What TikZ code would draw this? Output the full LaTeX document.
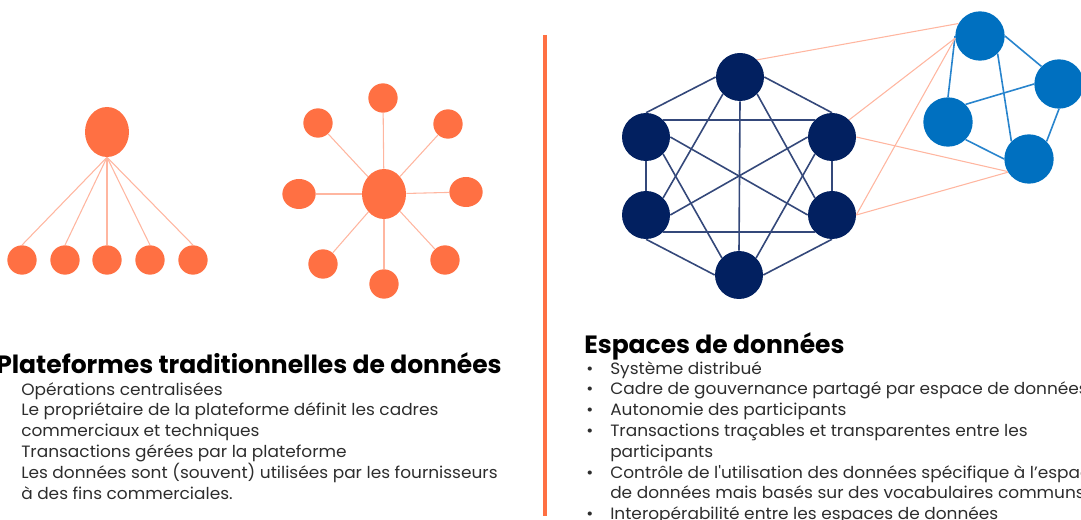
\documentclass[tikz,border=0pt]{standalone}
\usepackage{fontspec}
\setmainfont{Poppins}
\newfontfamily\bodyfont[FakeStretch=1.035]{Poppins}
\usetikzlibrary{shapes.geometric}

\definecolor{dotorange}{RGB}{255,112,67}
\definecolor{linkorange}{RGB}{255,182,160}
\definecolor{navy}{RGB}{2,32,96}
\definecolor{navyline}{RGB}{52,72,122}
\definecolor{spaceblue}{RGB}{0,112,192}
\definecolor{blueline}{RGB}{40,132,205}
\definecolor{bodygray}{RGB}{45,45,45}

\tikzset{
  hub/.style={ellipse, fill=dotorange, minimum width=33pt, minimum height=37.5pt, inner sep=0pt},
  leaf/.style={circle, fill=dotorange, minimum size=22pt, inner sep=0pt},
  peer/.style={circle, fill=navy, minimum size=36pt, inner sep=0pt},
  member/.style={circle, fill=spaceblue, minimum size=37pt, inner sep=0pt},
  thinlink/.style={draw=linkorange, line width=0.8pt},
  meshlink/.style={draw=navyline, line width=1.2pt},
  clusterlink/.style={draw=blueline, line width=1.2pt},
  divider/.style={draw=dotorange, line width=2.4pt},
  heading/.style={font=\bfseries\fontsize{18.75}{22}\selectfont, anchor=base west, inner sep=0pt},
  bodytext/.style={font=\bodyfont\fontsize{12.3}{15}\selectfont, text=bodygray, anchor=base west, inner sep=0pt},
}

\begin{document}
\begin{tikzpicture}[x=0.75pt,y=0.75pt,yscale=-1,xscale=1]
\useasboundingbox (0,0) rectangle (1081,520);
\clip (0,0) rectangle (1081,520);

% centralised tree
\node[hub] (root) at (107,132) {};
\foreach \x [count=\i] in {22,65,107,150,193}
  \node[leaf] (kid\i) at (\x,260) {};
\foreach \i in {1,...,5}
  \draw[thinlink] (root.south) -- (kid\i.north);

% star platform
\node[hub] (star) at (384,194) {};
\node[leaf] (sat1) at (383,98) {};
\node[leaf] (sat2) at (448,124) {};
\node[leaf, ellipse, minimum width=25pt, minimum height=22.5pt] (sat3) at (466,192) {};
\node[leaf] (sat4) at (445,260) {};
\node[leaf] (sat5) at (384,284) {};
\node[leaf] (sat6) at (323,264) {};
\node[leaf, ellipse, minimum width=25pt, minimum height=22.5pt] (sat7) at (299,194) {};
\node[leaf] (sat8) at (318,123) {};
\foreach \i in {1,...,8}
  \draw[thinlink] (star) -- (sat\i);

% divider
\draw[divider] (545,35) -- (545,516);

% data space mesh
\node[peer] (ptop) at (740,77) {};
\node[peer] (pul) at (646,137) {};
\node[peer] (pur) at (832,137) {};
\node[peer] (pll) at (646,215) {};
\node[peer] (plr) at (832,215) {};
\node[peer] (pbot) at (739,275) {};
\draw[meshlink] (ptop.west) -- (pul.north);
\draw[meshlink] (ptop.east) -- (pur.north);
\draw[meshlink] (ptop.south) -- (pbot.north);
\draw[meshlink] (ptop.-135) -- (pll.45);
\draw[meshlink] (ptop.-45) -- (plr.135);
\draw[meshlink] (pul.45) -- (pur.135);
\draw[meshlink] (pul.south) -- (pll.north);
\draw[meshlink] (pul.east) -- (plr.west);
\draw[meshlink] (pul.-45) -- (pbot.135);
\draw[meshlink] (pur.south) -- (plr.north);
\draw[meshlink] (pur.west) -- (pll.east);
\draw[meshlink] (pur.-135) -- (pbot.45);
\draw[meshlink] (pll.-45) -- (plr.-135);
\draw[meshlink] (pll.south) -- (pbot.west);
\draw[meshlink] (plr.south) -- (pbot.east);

% neighbouring data space
\node[member] (ma) at (980,36) {};
\node[member] (mb) at (1059,84) {};
\node[member] (mc) at (948,122) {};
\node[member] (md) at (1029,159) {};
\draw[clusterlink] (ma.west) -- (mc.north);
\draw[clusterlink] (ma.east) -- (mb.135);
\draw[clusterlink] (ma.-45) -- (md.135);
\draw[clusterlink] (mc.45) -- (mb.west);
\draw[clusterlink] (mc.-45) -- (md.west);
\draw[clusterlink] (mb.south) -- (md.45);

% links between spaces
\draw[thinlink] (ptop.45) -- (ma.150);
\draw[thinlink] (pur.45) -- (ma.185);
\draw[thinlink] (pur.east) -- (md.210);
\draw[thinlink] (plr.east) -- (ma.185);
\draw[thinlink] (plr.east) -- (md.212);

% Text Node
\node[heading] (lefthead) at (-4,373) {Plateformes traditionnelles de données};
\foreach \txt [count=\i] in {{Opérations centralisées},
    {Le propriétaire de la plateforme définit les cadres},
    {commerciaux et techniques},
    {Transactions gérées par la plateforme},
    {Les données sont (souvent) utilisées par les fournisseurs},
    {à des fins commerciales.}}
  \node[bodytext] (lline\i) at (21,{395+20.9*(\i-1)}) {\txt};

% Text Node
\node[heading] (righthead) at (584,353) {Espaces de données};
\foreach \txt [count=\i] in {{Système distribué},
    {Cadre de gouvernance partagé par espace de données},
    {Autonomie des participants},
    {Transactions traçables et transparentes entre les},
    {participants},
    {Contrôle de l\textquotesingle utilisation des données spécifique à l’espace},
    {de données mais basés sur des vocabulaires communs},
    {Interopérabilité entre les espaces de données}}
  \node[bodytext] (rline\i) at (610,{374+20.8*(\i-1)}) {\txt};
\foreach \i in {1,2,3,4,6,8}
  \node[bodytext] (dot\i) at (586,{374+20.8*(\i-1)}) {•};
\end{tikzpicture}
\end{document}
